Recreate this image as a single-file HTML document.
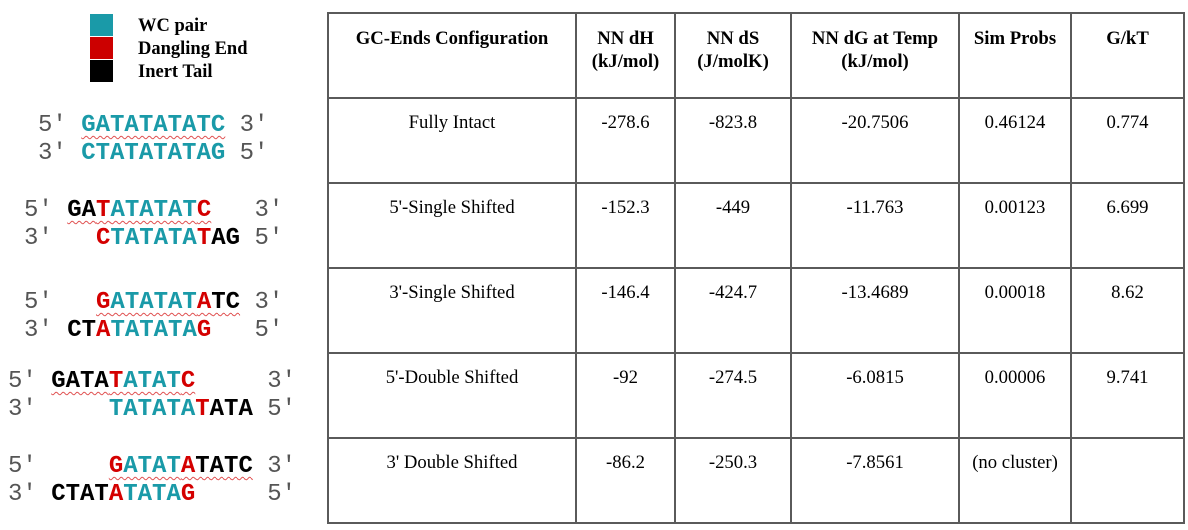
<!DOCTYPE html>
<html><head><meta charset="utf-8">
<style>
body{margin:0;width:1188px;height:530px;background:#fff;position:relative;overflow:hidden;font-family:"Liberation Serif",serif;}
.sq{position:absolute;left:90px;width:23px;height:22px;}
.lg{position:absolute;left:138px;font-weight:bold;font-size:18.5px;line-height:22px;}
.seq{position:absolute;font-family:"Liberation Mono",monospace;font-size:24px;white-space:pre;line-height:28px;color:#555;}
.seq span{font-weight:bold}
.t{color:#1a9aa8}.r{color:#d40000}.k{color:#000}
.u{text-decoration:underline wavy #e05050;text-decoration-thickness:1px;text-underline-offset:4px;}
table{position:absolute;left:327px;top:12px;border-collapse:collapse;font-size:18.7px;}
td,th{border:2px solid #5a5a5a;text-align:center;vertical-align:top;padding:12px 2px 0;line-height:23px;box-sizing:border-box;}
th{height:85px;padding-top:13px}
td{height:85px;}
</style></head><body>
<div class="sq" style="top:14px;background:#1a9aa8"></div>
<div class="sq" style="top:37px;background:#cc0000"></div>
<div class="sq" style="top:60px;background:#000"></div>
<div class="lg" style="top:15px">WC pair</div>
<div class="lg" style="top:38px">Dangling End</div>
<div class="lg" style="top:61px">Inert Tail</div>

<div class="seq" style="left:38px;top:112px">5′ <span class="u t">GATATATATC</span> 3′
3′ <span class="t">CTATATATAG</span> 5′</div>
<div class="seq" style="left:24px;top:197px">5′ <span class="u"><span class="k">GA</span><span class="r">T</span><span class="t">ATATAT</span><span class="r">C</span></span>   3′
3′   <span class="r">C</span><span class="t">TATATA</span><span class="r">T</span><span class="k">AG</span> 5′</div>
<div class="seq" style="left:24px;top:289px">5′   <span class="u"><span class="r">G</span><span class="t">ATATAT</span><span class="r">A</span><span class="k">TC</span></span> 3′
3′ <span class="k">CT</span><span class="r">A</span><span class="t">TATATA</span><span class="r">G</span>   5′</div>
<div class="seq" style="left:8px;top:368px">5′ <span class="u"><span class="k">GATA</span><span class="r">T</span><span class="t">ATAT</span><span class="r">C</span></span>     3′
3′     <span class="t">TATATA</span><span class="r">T</span><span class="k">ATA</span> 5′</div>
<div class="seq" style="left:8px;top:453px">5′     <span class="u"><span class="r">G</span><span class="t">ATAT</span><span class="r">A</span><span class="k">TATC</span></span> 3′
3′ <span class="k">CTAT</span><span class="r">A</span><span class="t">TATA</span><span class="r">G</span>     5′</div>

<table>
<tr>
<th style="width:248px">GC-Ends Configuration</th><th style="width:99px">NN dH<br>(kJ/mol)</th><th style="width:116px">NN dS<br>(J/molK)</th><th style="width:168px">NN dG at Temp<br>(kJ/mol)</th><th style="width:112px">Sim Probs</th><th style="width:113px">G/kT</th></tr>
<tr><td>Fully Intact</td><td>-278.6</td><td>-823.8</td><td>-20.7506</td><td>0.46124</td><td>0.774</td></tr>
<tr><td>5'-Single Shifted</td><td>-152.3</td><td>-449</td><td>-11.763</td><td>0.00123</td><td>6.699</td></tr>
<tr><td>3'-Single Shifted</td><td>-146.4</td><td>-424.7</td><td>-13.4689</td><td>0.00018</td><td>8.62</td></tr>
<tr><td>5'-Double Shifted</td><td>-92</td><td>-274.5</td><td>-6.0815</td><td>0.00006</td><td>9.741</td></tr>
<tr><td>3' Double Shifted</td><td>-86.2</td><td>-250.3</td><td>-7.8561</td><td>(no cluster)</td><td></td></tr>
</table>
</body></html>
